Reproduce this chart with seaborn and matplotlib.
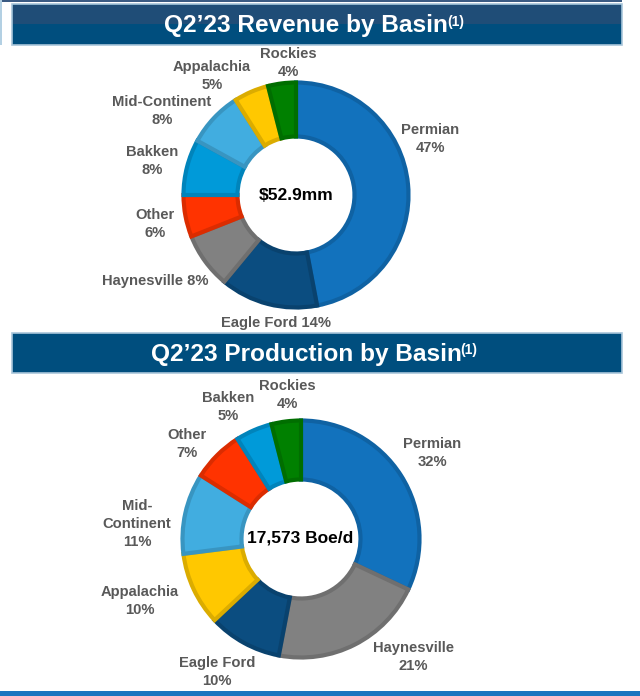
import matplotlib
matplotlib.use("Agg")
import matplotlib.pyplot as plt
import seaborn as sns
from matplotlib.patches import Rectangle

# Data
revenue_basins = ["Permian", "Eagle Ford", "Haynesville", "Other", "Bakken",
                  "Mid-Continent", "Appalachia", "Rockies"]
revenue_share = [47, 14, 8, 6, 8, 8, 5, 4]
revenue_total = "$52.9mm"

production_basins = ["Permian", "Haynesville", "Eagle Ford", "Appalachia",
                     "Mid-Continent", "Other", "Bakken", "Rockies"]
production_share = [32, 21, 10, 10, 11, 7, 5, 4]
production_total = "17,573 Boe/d"

titles = ["Q2\u201923 Revenue by Basin", "Q2\u201923 Production by Basin"]

basin_colors = {
    "Permian": "#1272bd",
    "Eagle Ford": "#0b4d80",
    "Haynesville": "#818181",
    "Other": "#ff3300",
    "Bakken": "#009ad9",
    "Mid-Continent": "#41ade0",
    "Appalachia": "#ffc800",
    "Rockies": "#008000",
}

# label text as it is laid out on the slide
revenue_labels = ["Permian\n47%", "Eagle Ford 14%", "Haynesville 8%", "Other\n6%",
                  "Bakken\n8%", "Mid-Continent\n8%", "Appalachia\n5%", "Rockies\n4%"]
production_labels = ["Permian\n32%", "Haynesville\n21%", "Eagle Ford\n10%", "Appalachia\n10%",
                     "Mid-\nContinent\n11%", "Other\n7%", "Bakken\n5%", "Rockies\n4%"]

# layout (pixels on a 640x696 canvas)
W, H = 640, 696
revenue_label_xy = [(430, 139), (276, 323), (155, 281), (155, 224),
                    (152, 161), (162, 111), (212, 76), (288, 63)]
production_label_xy = [(432, 453), (413, 657), (217, 672), (140, 601),
                       (137, 524), (187, 444), (228, 407), (287, 395)]

sns.set_theme(style="white")
plt.rcParams["font.family"] = ["Liberation Sans", "DejaVu Sans"]


def darker(c, f=0.86):
    r, g, b = matplotlib.colors.to_rgb(c)
    return (r * f, g * f, b * f)


def donut(ax, values, names, center, r_out, r_in):
    cols = [basin_colors[n] for n in names]
    wedges, _ = ax.pie(values, colors=cols, startangle=270, counterclock=True,
                       radius=r_out - 1.5, center=center,
                       wedgeprops=dict(width=r_out - r_in - 3, linewidth=3))
    for w, c in zip(wedges, cols):
        w.set_edgecolor(darker(c))
        w.set_joinstyle("miter")


def header(ax, y0, y1, title, two_tone):
    ax.add_patch(Rectangle((12, y0), 610, y1 - y0, facecolor="#004e7e",
                           edgecolor="#a9c6da", linewidth=1.2, zorder=3))
    if two_tone:
        ax.add_patch(Rectangle((12.6, y0 + 0.6), 608.8, (y1 - y0) / 2 - 1,
                               facecolor="#1f4d77", edgecolor="none", zorder=3))
    t = ax.text(306, (y0 + y1) / 2 + 1, title, ha="center", va="center",
                color="white", fontsize=17.6, fontweight="bold", zorder=4)
    ax.annotate("(1)", xy=(1, 1), xycoords=t, xytext=(-0.5, -0.5), textcoords="offset points",
                ha="left", va="top", color="white", fontsize=10, fontweight="bold", zorder=4)


fig = plt.figure(figsize=(6.4, 6.96), dpi=100)
ax = fig.add_axes([0, 0, 1, 1])

donut(ax, revenue_share, revenue_basins, (296, 195), 114, 57)
donut(ax, production_share, production_basins, (301, 539), 120, 58)

for lab, (x, y) in zip(revenue_labels, revenue_label_xy):
    ax.text(x, y, lab, ha="center", va="center", color="#595959",
            fontsize=10.6, fontweight="bold", linespacing=1.38)
for lab, (x, y) in zip(production_labels, production_label_xy):
    ax.text(x, y, lab, ha="center", va="center", color="#595959",
            fontsize=10.6, fontweight="bold", linespacing=1.38)

ax.text(296, 196, revenue_total, ha="center", va="center", color="black",
        fontsize=12.5, fontweight="bold")
ax.text(300, 538, production_total, ha="center", va="center", color="black",
        fontsize=12.5, fontweight="bold")

header(ax, 4, 45, titles[0], True)
header(ax, 333, 373, titles[1], False)

# slide frame bits
ax.add_patch(Rectangle((0, 0), 622, 2, facecolor="#3b5b83", edgecolor="none"))
ax.add_patch(Rectangle((0, 0), 2, 45, facecolor="#b3d0e3", edgecolor="none"))
ax.add_patch(Rectangle((0, 691), W, 5, facecolor="#1a74bf", edgecolor="none"))

ax.set_xlim(0, W)
ax.set_ylim(H, 0)
ax.set_aspect("equal")
ax.axis("off")

fig.savefig("out.png", dpi=100)
